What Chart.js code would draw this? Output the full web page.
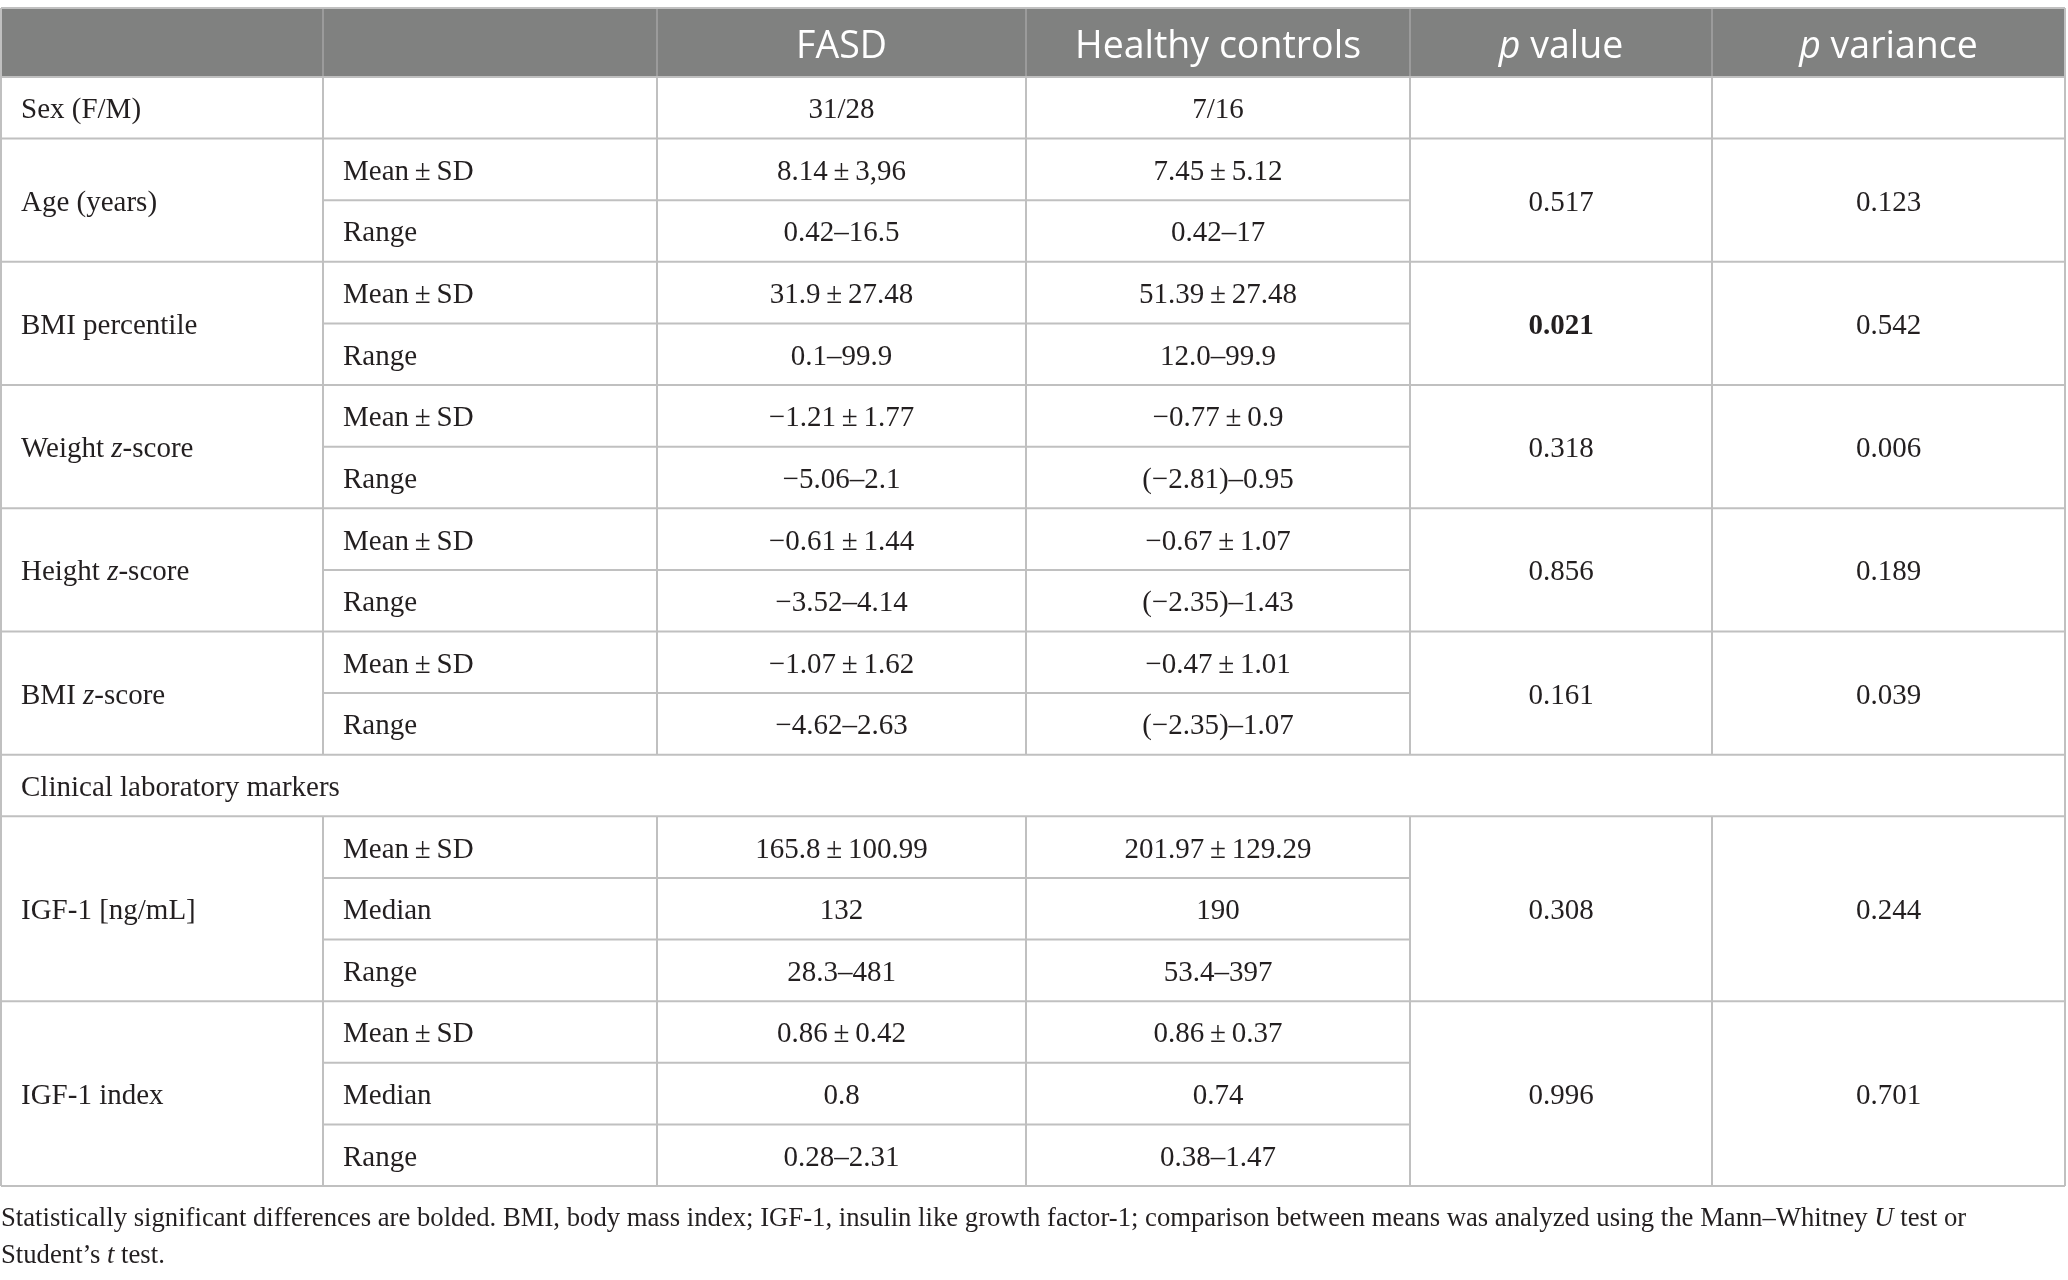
<!DOCTYPE html>
<html>
<head>
<meta charset="utf-8">
<script src="https://cdn.jsdelivr.net/npm/chart.js@4.4.0/dist/chart.umd.min.js"></script>
<style>
  html, body { margin: 0; padding: 0; background: #fff; }
  canvas { display: block; }
</style>
</head>
<body>
<canvas id="table" width="2068" height="1280"></canvas>
<script>
// table content; _x_ marks italic text, ** marks a bold (significant) value
const headers = ['', '', 'FASD', 'Healthy controls', '_p_ value', '_p_ variance'];

const variables = [
  'Sex (F/M)',
  'Age (years)',
  'BMI percentile',
  'Weight _z_-score',
  'Height _z_-score',
  'BMI _z_-score',
  'Clinical laboratory markers',
  'IGF-1 [ng/mL]',
  'IGF-1 index'
];

// null = section heading spanning the whole row
const statistics = [
  [''],
  ['Mean ± SD', 'Range'],
  ['Mean ± SD', 'Range'],
  ['Mean ± SD', 'Range'],
  ['Mean ± SD', 'Range'],
  ['Mean ± SD', 'Range'],
  null,
  ['Mean ± SD', 'Median', 'Range'],
  ['Mean ± SD', 'Median', 'Range']
];

const fasd = [
  ['31/28'],
  ['8.14 ± 3,96', '0.42–16.5'],
  ['31.9 ± 27.48', '0.1–99.9'],
  ['−1.21 ± 1.77', '−5.06–2.1'],
  ['−0.61 ± 1.44', '−3.52–4.14'],
  ['−1.07 ± 1.62', '−4.62–2.63'],
  null,
  ['165.8 ± 100.99', '132', '28.3–481'],
  ['0.86 ± 0.42', '0.8', '0.28–2.31']
];

const controls = [
  ['7/16'],
  ['7.45 ± 5.12', '0.42–17'],
  ['51.39 ± 27.48', '12.0–99.9'],
  ['−0.77 ± 0.9', '(−2.81)–0.95'],
  ['−0.67 ± 1.07', '(−2.35)–1.43'],
  ['−0.47 ± 1.01', '(−2.35)–1.07'],
  null,
  ['201.97 ± 129.29', '190', '53.4–397'],
  ['0.86 ± 0.37', '0.74', '0.38–1.47']
];

const pValue = ['', '0.517', '**0.021', '0.318', '0.856', '0.161', null, '0.308', '0.996'];
const pVariance = ['', '0.123', '0.542', '0.006', '0.189', '0.039', null, '0.244', '0.701'];

const footnote = [
  'Statistically significant differences are bolded. BMI, body mass index; IGF-1, insulin like growth factor-1; comparison between means was analyzed using the Mann–Whitney _U_ test or',
  'Student’s _t_ test.'
];

// layout (in scale units)
const colEdges = [0, 322, 656, 1025, 1409, 1711, 2064];
const headerRows = 1.12;
const bodyRows = statistics.reduce((n, s) => n + (s ? s.length : 1), 0);

const serif = '"Liberation Serif", "DejaVu Serif", serif';
const sans = '"Open Sans", "Noto Sans", sans-serif';
const textColor = '#231f20';
const lineColor = '#c0c0c0';
const headerFill = '#808180';

function drawRich(ctx, text, x, yBase, align, size, family, color) {
  let weight = 'normal';
  if (text.startsWith('**')) { weight = 'bold'; text = text.slice(2); }
  const parts = text.replace(/ ± /g, '\u2009±\u2009').split('_');
  let total = 0;
  const segs = parts.map((t, i) => {
    const font = (i % 2 ? 'italic ' : '') + weight + ' ' + size + 'px ' + family;
    ctx.font = font;
    const w = ctx.measureText(t).width;
    total += w;
    return { t, font, w };
  });
  let cx = align === 'center' ? x - total / 2 : x;
  ctx.fillStyle = color;
  ctx.textAlign = 'left';
  ctx.textBaseline = 'alphabetic';
  segs.forEach(s => { ctx.font = s.font; ctx.fillText(s.t, cx, yBase); cx += s.w; });
}

function line(ctx, x1, y1, x2, y2, color, width) {
  ctx.strokeStyle = color;
  ctx.lineWidth = width;
  ctx.beginPath();
  ctx.moveTo(x1, y1);
  ctx.lineTo(x2, y2);
  ctx.stroke();
}

const tablePlugin = {
  id: 'tableCells',
  afterDraw(chart) {
    const { ctx, scales: { x, y } } = chart;
    const px = i => x.getPixelForValue(colEdges[i]);
    const py = v => y.getPixelForValue(v);
    const bodySize = 29, headSize = 37.5, noteSize = 26.7;
    const bodyBase = (top, bottom) => (py(top) + py(bottom)) / 2 + bodySize * 0.36;
    const colCenter = i => (px(i) + px(i + 1)) / 2;

    ctx.save();

    // header band
    ctx.fillStyle = headerFill;
    ctx.fillRect(px(0), py(-headerRows), px(6) - px(0), py(0) - py(-headerRows));
    for (let c = 1; c < 6; c++) line(ctx, px(c), py(-headerRows), px(c), py(0), '#a4a5a4', 1.5);
    headers.forEach((h, c) => {
      if (!h) return;
      const base = (py(-headerRows) + py(0)) / 2 + headSize * 0.41;
      drawRich(ctx, h, colCenter(c), base, 'center', headSize, sans, '#ffffff');
    });

    // body rows
    let r = 0;
    variables.forEach((name, g) => {
      const stats = statistics[g];
      const n = stats ? stats.length : 1;
      const top = r, bottom = r + n;

      line(ctx, px(0), py(top), px(6), py(top), lineColor, 2);
      drawRich(ctx, name, px(0) + 20, bodyBase(top, bottom), 'left', bodySize, serif, textColor);

      if (stats) {
        for (let c = 1; c < 6; c++) line(ctx, px(c), py(top), px(c), py(bottom), lineColor, 2);
        stats.forEach((s, k) => {
          if (k > 0) line(ctx, px(1), py(top + k), px(4), py(top + k), lineColor, 2);
          const base = bodyBase(top + k, top + k + 1);
          if (s) drawRich(ctx, s, px(1) + 20, base, 'left', bodySize, serif, textColor);
          drawRich(ctx, fasd[g][k], colCenter(2), base, 'center', bodySize, serif, textColor);
          drawRich(ctx, controls[g][k], colCenter(3), base, 'center', bodySize, serif, textColor);
        });
        const mid = bodyBase(top, bottom);
        if (pValue[g]) drawRich(ctx, pValue[g], colCenter(4), mid, 'center', bodySize, serif, textColor);
        if (pVariance[g]) drawRich(ctx, pVariance[g], colCenter(5), mid, 'center', bodySize, serif, textColor);
      }
      r = bottom;
    });

    // outer border
    line(ctx, px(0), py(-headerRows), px(6), py(-headerRows), lineColor, 2);
    line(ctx, px(0), py(bodyRows), px(6), py(bodyRows), lineColor, 2);
    line(ctx, px(0), py(-headerRows), px(0), py(bodyRows), lineColor, 2);
    line(ctx, px(6), py(-headerRows), px(6), py(bodyRows), lineColor, 2);

    // footnote under the table
    const area = chart.chartArea;
    drawRich(ctx, footnote[0], px(0), area.bottom + 40, 'left', noteSize, serif, textColor);
    drawRich(ctx, footnote[1], px(0), area.bottom + 77, 'left', noteSize, serif, textColor);

    ctx.restore();
  }
};

new Chart(document.getElementById('table'), {
  type: 'scatter',
  data: { datasets: [{ data: [], pointRadius: 0 }] },
  options: {
    responsive: false,
    animation: false,
    devicePixelRatio: 1,
    layout: { padding: { left: 1, right: 3, top: 8, bottom: 94 } },
    plugins: { legend: { display: false }, tooltip: { enabled: false } },
    scales: {
      x: { type: 'linear', min: colEdges[0], max: colEdges[colEdges.length - 1], display: false },
      y: { type: 'linear', min: -headerRows, max: bodyRows, reverse: true, display: false }
    }
  },
  plugins: [tablePlugin]
});
</script>
</body>
</html>
